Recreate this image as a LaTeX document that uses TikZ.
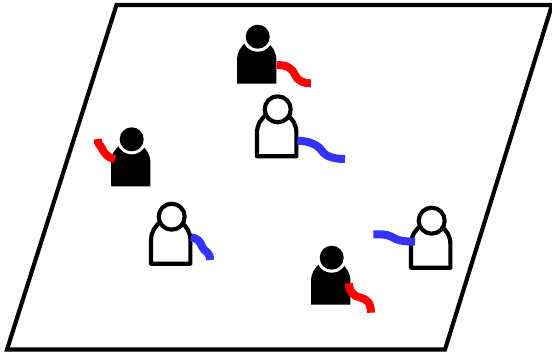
\documentclass[tikz,border=0pt]{standalone}
\usepackage{xcolor}
\definecolor{wirered}{RGB}{255,0,0}
\definecolor{wireblue}{RGB}{51,51,255}
\tikzset{
  outline/.style={line width=3.1pt,line join=round},
  wire/.style={line width=6pt},
}
\begin{document}
\begin{tikzpicture}[x=0.75pt,y=-0.75pt]
    \useasboundingbox (0,0) rectangle (552,353);
    \coordinate (plateA) at (116.5,5);
    \coordinate (plateB) at (552,5);
    \coordinate (plateC) at (445,349.5);
    \coordinate (plateD) at (7,349.5);
    \draw[outline,line join=miter] (plateA) -- (plateB) -- (plateC) -- (plateD) -- cycle;
    % filled people
    \foreach \hx/\hy in {257.7/36.7,131.7/139.3,331.7/257.7}{
      \begin{scope}[shift={(\hx,\hy)}]
        \fill[black] (-20.7,47) -- (-20.7,24) .. controls (-20.7,15) and (-17,10) .. (-11,5) -- (9,5) .. controls (15,10) and (18.7,15) .. (18.7,24) -- (18.7,47) -- cycle;
        \fill[white] (0,0) circle (15);
        \fill[black] (0,0) circle (12);
      \end{scope}
    }
    % open people
    \foreach \hx/\hy in {277.7/109.3,171.7/216.7,431.7/220.7}{
      \begin{scope}[shift={(\hx,\hy)}]
        \draw[outline,fill=white] (-20.7,47) -- (-20.7,24) .. controls (-20.7,15) and (-17,10) .. (-11,5) -- (9,5) .. controls (15,10) and (18.7,15) .. (18.7,24) -- (18.7,47) -- cycle;
        \draw[outline,fill=white] (0,0) circle (13);
      \end{scope}
    }
    % wires
    \draw[wire,wirered] (276.7,65) .. controls (287,65) and (292,68) .. (295,75) .. controls (298,81) and (303,83.3) .. (311,83.3);
    \draw[wire,wirered] (115,159.3) .. controls (108,158) and (104,153) .. (102,148.5) .. controls (100,144) and (97.7,145) .. (97.7,139);
    \draw[wire,wirered] (349,283.3) .. controls (349,291) and (353,296) .. (360,297.5) .. controls (367,299) and (371,303) .. (371,312.7);
    \draw[wire,wireblue] (297.3,140.7) .. controls (310,141) and (318,145) .. (322,151) .. controls (326,157) and (335,159) .. (345,159);
    \draw[wire,wireblue] (191,237.3) .. controls (197,238) and (200,241) .. (202,246.5) .. controls (204,252) and (210,251) .. (210,260);
    \draw[wire,wireblue] (415,241.7) .. controls (403,241.7) and (396,240) .. (391,236.5) .. controls (386,234) and (380,234.3) .. (373.3,234.3);
\end{tikzpicture}
\end{document}
